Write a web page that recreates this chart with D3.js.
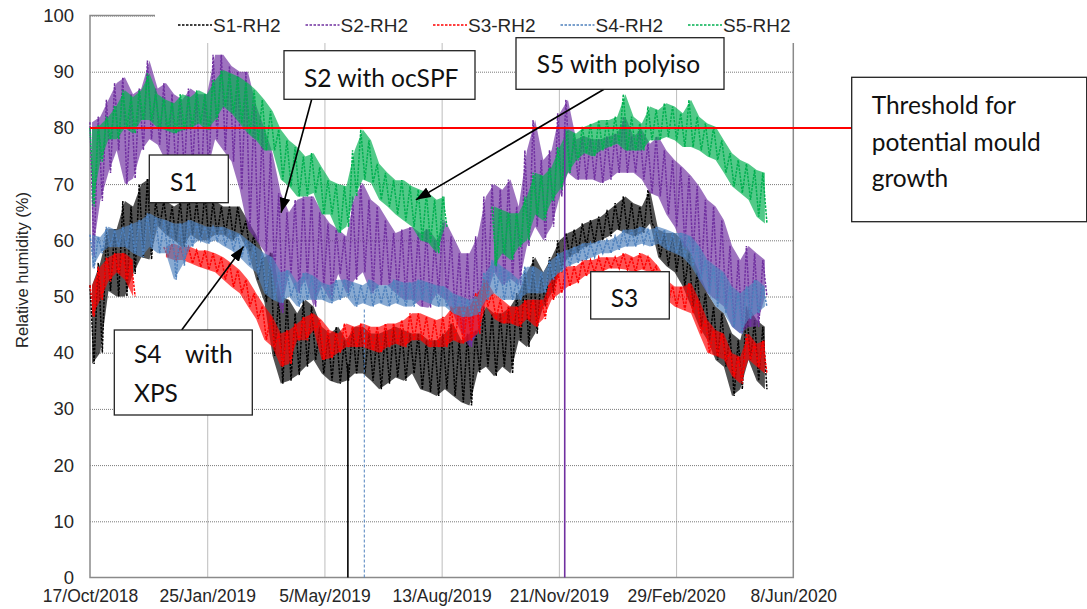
<!DOCTYPE html>
<html>
<head>
<meta charset="utf-8">
<script src="https://cdn.jsdelivr.net/npm/d3@7"></script>
<style>
  body { margin: 0; background: #fff; }
  text { font-family: "Liberation Sans", Arial, sans-serif; }
  .note { font-family: Lato, "Open Sans", sans-serif; font-size: 24.5px; fill: #111; }
</style>
</head>
<body>
<svg id="chart" width="1087" height="609"></svg>
<script>
// Weekly readings (daily maximum / minimum RH within each week), starting on the first logging day.
const firstDay = "2018-10-17";

const s1Hi = [52,56,62,62,67,66,70,71,67,67,66,67,68,67,68.5,67,66,66,66,63.5,61,57,
  57.8,50,49.4,47,49.4,48.2,44.6,43.4,44.6,42.2,44.6,44.6,43.4,43.4,44,44.6,44,43.4,43.4,42.2,42.2,
  43.4,45.2,42.2,43.4,44,48.2,47,47,48.2,50.6,54.3,57,54.3,57,60,61.3,61.9,63,63.6,64.2,65.4,66.6,
  67.8,66.6,66,69,61.9,61.3,61.3,60,57.7,54.3,50.6,48.2,47,43.4,42.2,48.2,45.8,44.6];
const s1Lo = [38,40,51,50,50,54,57,56.6,62.5,61,60,58.7,61,60,60,61,61,60,61,58,53,49,
  39.4,34.5,35,36,37.5,38.7,36.3,35,34.5,35,36.3,36.3,35,33.5,34.5,35.6,35,36.3,33.5,33,32.3,
  33.5,32.3,31.2,30.6,36.5,37.5,35.8,37.5,36.3,42.2,41,43.4,48.2,50.6,54.3,57,57.7,58.8,59.4,60,60.7,61.9,
  61.3,60.7,61.3,63,57,55.4,54.3,51.8,48.2,44.6,42.2,38.7,37.5,32.3,33.5,38.7,35,33.5];

const s2Hi = [81,82,85,88,89,86,87,92,87,88,86,85,87,86,86,93,93,91,90,90,84,80,
  75.5,68.4,65,67.2,67.8,67.8,65,63,61.9,60.7,67.8,70.2,67.2,66,63.6,61.3,61.9,62.4,61.3,62,60,
  63.6,60.7,57.7,57.7,60.7,67.8,70,69,70.8,66,76,81.4,74.3,76,82.6,85,78,78.5,78,78,78.5,79,
  82,78.5,79.7,77.2,78.5,76,74.3,73,71.5,69.6,67.2,66,63.6,59,56.5,59,57.7,56.5];
const s2Lo = [57,67,72,76,70,71,76,78,77,74,71,72,73,67,72,78,76,74,69,62,60,58,
  54,47,54,50.6,53,48.2,52,49.4,54,50.6,53,54.3,50.6,52,52,50.6,49.4,49.4,48.2,48,50.6,
  49.4,47,43.4,41,43.4,49.4,54.3,52,53.1,52,59,62.4,60,62.4,67.8,72,70.8,70.8,70.8,70.2,70.8,72,
  72,72,70.8,68.4,67.8,64.6,62.4,59,57.7,53,50.6,49.4,48.2,44.6,43.4,44.6,44.6,50];

const s3Hi = [52,55.3,57,57.7,57.7,56.5,null,null,null,58.8,59.4,58.8,58.8,58.2,58.2,57.7,57,55.9,54.7,53,50.6,48.3,
  46.4,43.4,44,45.2,46.4,47,45.8,44,43.4,45.2,44.6,45.2,44.6,44.6,45.2,45.2,45.8,47,47,46.4,45.8,
  46.4,48.2,48.2,48.2,50.6,53,50.6,49.4,48.2,48.2,49.4,49.4,49.4,53,54.3,55.4,55.4,56.5,56.5,57,57,57,
  57.7,57,57.7,57,55.4,53,51.8,51.8,52.4,49.4,45.8,44,43.4,39.9,39.3,43.4,41.6,42.2];
const s3Lo = [46.4,49.4,52.7,54.3,53,50,null,null,null,57,56.5,56.5,55.9,55.3,54.8,54.3,53,51.7,50.6,48.2,46,42.3,
  41,37.5,38,42.2,42.2,44,38.7,39,40,41,41,41,40.5,40,41,41.6,41,42.2,42.2,41,41,
  41,42.2,41.6,42.2,43.4,48.2,46,45.2,45.2,44.6,46,44.6,46,49.4,50.6,51.8,52.4,53.6,54.3,54.3,55,55,
  54.8,54.3,54.8,54.3,51.8,49.4,48.2,47.6,47,43.4,40,39.4,38.8,35.8,34.5,38.8,37.5,36.3];

const s4Hi = [61,60.6,62.4,61.8,62.4,63,63.6,64.8,64,63.6,63,63,63.6,63,62.4,62.4,62.4,61.8,61.2,60,58.9,57.7,
  57,54.3,54.7,52.5,54.3,53.7,52.5,52,53,53,52.5,52,53,52,52,53,52.5,52.5,53,52.5,52,
  51.8,50.6,50,49.4,50,54.3,56.5,55.3,54.3,53,55.3,55.3,54.3,56.5,57.7,58.3,58.9,59.5,59.5,60,60,60.7,
  61.9,61.9,62.4,61.9,62.4,61.9,61.3,61.3,60.7,59,56.5,55.4,54.3,51.8,50.6,51.8,53,51.8];
const s4Lo = [55,57.7,58.8,58.8,58.8,57.7,57,58.8,57.7,57.7,53,55.5,58.8,60,59.4,60,59,58.2,57,55.5,54.3,50.6,
  49.4,48.8,50,48.2,49.4,49.4,49.4,48.8,49.4,50,48.2,48.8,48.2,48.8,48.2,48.8,48.2,48.2,49.4,48.8,48.2,
  48.2,47,46.4,46.4,46.8,49.4,50.6,49.4,49.4,49.4,50.6,50.6,50.6,53,54.3,55.4,56,56.5,57,57.7,57.7,58.3,
  58.9,58.9,59.4,58.9,59.4,58.3,57.7,57,55.4,53,50.6,48.2,47,44.6,43.4,46,47,48.2];

const s5Hi = [80,80.5,82,84,86.7,85.5,86.7,89.7,86,85,84.4,86,85.5,86.7,86,88.5,90.3,89.7,89,88,86.7,85,
  83,79.7,77.8,76.6,74.9,75.5,73,70.7,70,69.6,76,79.7,77.8,73.6,72,70.7,70.7,69.6,69,68.4,67.2,
  67.8,null,null,null,null,null,66,65.4,64.8,64.8,67.8,72,71.5,73,76.6,79.7,79,80.2,80.8,81.4,81.4,82,
  86,82,80.8,83.8,83.2,84.4,83.8,82.6,85,82,80.8,80.2,77.8,75.5,74.3,73.6,72.5,72];
const s5Lo = [66,74,78,78,80,79,81.4,81.4,80,79.6,79,79.6,80,80.8,79.6,81.4,83.8,82.6,80.8,79,77.8,76,
  76,70.8,69.6,67.8,67.8,68.4,64.6,64.6,61.3,62.4,67.8,70.8,70.2,67.2,66,64.6,63.5,62.4,60,59.5,57.7,
  62.4,null,null,null,null,null,55.4,57.7,56.5,58.8,60,64.6,63.5,67,69,72,74.2,75.5,74.9,76,76.6,77.2,
  76,76,76,77.8,77.8,78.4,77.8,76.6,76.6,76,74.9,74.3,72,69.6,68.4,67.2,64.2,63];

// Single-day sensor dropouts (reading fell to 0 %)
const dropouts = [
  { series: 0, date: "2019-05-25", level: 38 },
  { series: 3, date: "2019-06-08", level: 48 },
  { series: 1, date: "2019-11-26", level: 80 }
];

const seriesNames  = ["S1-RH2", "S2-RH2", "S3-RH2", "S4-RH2", "S5-RH2"];
const seriesColors = ["#000000", "#7030a0", "#ff0000", "#4f81bd", "#00b050"];
const seriesHi = [s1Hi, s2Hi, s3Hi, s4Hi, s5Hi];
const seriesLo = [s1Lo, s2Lo, s3Lo, s4Lo, s5Lo];

const yTicks = [0, 10, 20, 30, 40, 50, 60, 70, 80, 90, 100];
const xTickDates  = ["2018-10-17", "2019-01-25", "2019-05-05", "2019-08-13", "2019-11-21", "2020-02-29", "2020-06-08"];
const xTickLabels = ["17/Oct/2018", "25/Jan/2019", "5/May/2019", "13/Aug/2019", "21/Nov/2019", "29/Feb/2020", "8/Jun/2020"];
const mouldThreshold = 80;

// ---------------------------------------------------------------
const parse = d3.utcParse("%Y-%m-%d");
const DAY = 864e5;
const t0 = parse(firstDay);
const svg = d3.select("#chart");

const pLeft = 90, pRight = 793.3, pTop = 15.5, pBottom = 577.5;
const x = d3.scaleUtc().domain([parse(xTickDates[0]), parse(xTickDates[xTickDates.length - 1])]).range([pLeft, pRight]);
const y = d3.scaleLinear().domain([0, 100]).range([pBottom, pTop]);

// grid
const grid = svg.append("g").attr("class", "grid");
grid.append("g").attr("transform", `translate(${pLeft},0)`)
  .call(d3.axisLeft(y).tickValues(yTicks.slice(1)).tickSize(-(pRight - pLeft)).tickFormat(""))
  .call(g => g.select(".domain").remove());
grid.append("g").attr("transform", `translate(0,${pBottom})`)
  .call(d3.axisBottom(x).tickValues(xTickDates.slice(1, -1).map(parse)).tickSize(-(pBottom - pTop)).tickFormat(""))
  .call(g => g.select(".domain").remove());
grid.selectAll("line").attr("stroke", "#7a7a7a").attr("stroke-width", 1).attr("stroke-dasharray", "1,1");

// frame
svg.append("rect").attr("x", pLeft).attr("y", pTop).attr("width", pRight - pLeft).attr("height", pBottom - pTop)
  .attr("fill", "none").attr("stroke", "#8a8a8a").attr("stroke-width", 1.5);

// series: band between weekly extremes, traced by the daily swing
const plot = svg.append("g");
seriesHi.forEach((hi, s) => {
  const lo = seriesLo[s];
  const weeks = hi.map((v, k) => ({ k, hi: v, lo: lo[k] }));
  const area = d3.area()
    .defined(d => d.hi != null)
    .x(d => x(new Date(+t0 + (7 * d.k + 1.75) * DAY)))
    .y0(d => y(d.lo)).y1(d => y(d.hi));
  plot.append("path").attr("d", area(weeks))
    .attr("fill", seriesColors[s]).attr("fill-opacity", 0.68);

  const pts = [];
  weeks.forEach(d => {
    pts.push({ t: new Date(+t0 + 7 * d.k * DAY), v: d.hi });
    pts.push({ t: new Date(+t0 + (7 * d.k + 3.5) * DAY), v: d.lo });
  });
  const line = d3.line().defined(d => d.v != null).x(d => x(d.t)).y(d => y(d.v));
  plot.append("path").attr("d", line(pts))
    .attr("fill", "none").attr("stroke", seriesColors[s])
    .attr("stroke-width", 1.5).attr("stroke-dasharray", "2.5,1.2");
});

// dropouts
dropouts.forEach(d => {
  const xp = x(parse(d.date));
  plot.append("line").attr("x1", xp).attr("x2", xp).attr("y1", y(0)).attr("y2", y(d.level))
    .attr("stroke", seriesColors[d.series])
    .attr("stroke-width", d.series === 3 ? 1 : 1.6)
    .attr("stroke-dasharray", d.series === 3 ? "3,2" : null);
});

// axes labels
svg.append("g").attr("transform", `translate(${pLeft},0)`)
  .call(d3.axisLeft(y).tickValues(yTicks).tickSize(0).tickPadding(16))
  .call(g => g.select(".domain").remove())
  .selectAll("text").attr("font-size", 18.5).attr("fill", "#262626")
  .attr("font-family", "'Liberation Sans', Arial, sans-serif");

svg.append("g").attr("transform", `translate(0,${pBottom})`)
  .call(d3.axisBottom(x).tickValues(xTickDates.map(parse)).tickSize(0).tickPadding(12.5)
    .tickFormat((d, i) => xTickLabels[i]))
  .call(g => g.select(".domain").remove())
  .selectAll("text").attr("font-size", 17.5).attr("fill", "#262626")
  .attr("font-family", "'Liberation Sans', Arial, sans-serif");

svg.append("text")
  .attr("transform", `translate(28,${(345 + 195) / 2}) rotate(-90)`)
  .attr("text-anchor", "middle").attr("font-size", 16.5).attr("fill", "#262626")
  .text("Relative humidity (%)");

// threshold
svg.append("line").attr("x1", pLeft).attr("x2", 851.7)
  .attr("y1", y(mouldThreshold)).attr("y2", y(mouldThreshold))
  .attr("stroke", "#ff0000").attr("stroke-width", 2);

// legend
svg.append("rect").attr("x", 155).attr("y", 0).attr("width", 645).attr("height", 43).attr("fill", "#fff");
seriesNames.forEach((name, i) => {
  const x0 = 178 + i * 127.5;
  svg.append("line").attr("x1", x0).attr("x2", x0 + 34).attr("y1", 25).attr("y2", 25)
    .attr("stroke", seriesColors[i]).attr("stroke-width", 1.4).attr("stroke-dasharray", "2.5,1.5");
  svg.append("text").attr("x", x0 + 35).attr("y", 31.5).attr("font-size", 19).attr("fill", "#262626").text(name);
});

// callouts
const defs = svg.append("defs");
defs.append("marker").attr("id", "head").attr("markerUnits", "userSpaceOnUse")
  .attr("viewBox", "0 0 14 10").attr("refX", 14).attr("refY", 5)
  .attr("markerWidth", 15).attr("markerHeight", 11).attr("orient", "auto")
  .append("path").attr("d", "M0,0 L14,5 L0,10 Z").attr("fill", "#000");

const arrows = [
  { from: [311.7, 99.3], date: "2019-03-29", value: 64.9 },
  { from: [604, 89.3],   date: "2019-07-22", value: 67.2 },
  { from: [181.7, 330],  date: "2019-02-25", value: 58.9 }
];
arrows.forEach(a => {
  svg.append("line").attr("x1", a.from[0]).attr("y1", a.from[1])
    .attr("x2", x(parse(a.date))).attr("y2", y(a.value))
    .attr("stroke", "#000").attr("stroke-width", 1.6).attr("marker-end", "url(#head)");
});

const boxes = [
  { x: 851.7, y: 77.3, w: 235, h: 144.4, lines: [["Threshold for", 871.7, 114], ["potential mould", 871.7, 150.5], ["growth", 871.7, 187]] },
  { x: 284, y: 50.7, w: 191, h: 48.6, lines: [["S2 with ocSPF", 304, 87]] },
  { x: 516, y: 37.7, w: 208, h: 51.6, lines: [["S5 with polyiso", 536.7, 72.7]] },
  { x: 149.3, y: 155, w: 79, h: 47.7, lines: [["S1", 170, 190.7]] },
  { x: 590.7, y: 271.7, w: 78.6, h: 47.3, lines: [["S3", 610.7, 306.7]] },
  { x: 114.3, y: 330, w: 138, h: 85, lines: [["S4", 134, 363], ["with", 185, 363], ["XPS", 134, 401.7]] }
];
boxes.forEach(b => {
  svg.append("rect").attr("x", b.x).attr("y", b.y).attr("width", b.w).attr("height", b.h)
    .attr("fill", "#fff").attr("stroke", "#222").attr("stroke-width", 1.3);
  b.lines.forEach(([t, tx, ty]) => {
    svg.append("text").attr("class", "note").attr("x", tx).attr("y", ty).text(t);
  });
});
</script>
</body>
</html>
